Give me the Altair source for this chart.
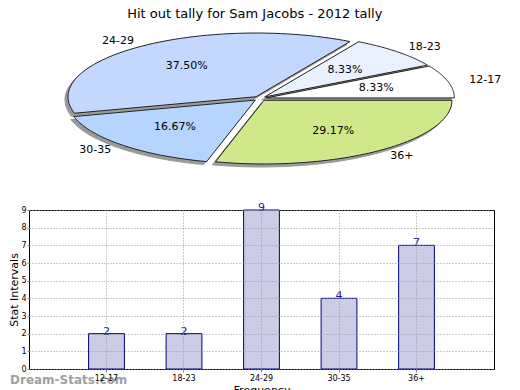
import altair as alt
import pandas as pd

title_text = "Hit out tally for Sam Jacobs - 2012 tally"
categories = ["12-17", "18-23", "24-29", "30-35", "36+"]
counts = [2, 2, 9, 4, 7]
slice_colors = ["#ffffff", "#e9f1ff", "#c4d8ff", "#b5d5ff", "#cfe98a"]
y_ticks = list(range(0, 10))
watermark = "Dream-Stats.com"

df = pd.DataFrame({"cat": categories, "count": counts})

N = 60
E = 0.035
FONT = "DejaVu Sans"

xs = alt.Scale(domain=[-1.2287, 1.2447], nice=False, zero=False)
ys = alt.Scale(domain=[-1.1852, 1.1852], nice=False, zero=False)

pie_base = (
    alt.Chart(df)
    .transform_joinaggregate(total="sum(count)")
    .transform_window(cum="sum(count)", sort=[alt.SortField("cat")], frame=[None, 0])
    .transform_calculate(a0="2*PI*(datum.cum - datum.count)/datum.total")
    .transform_calculate(a1="2*PI*datum.cum/datum.total")
    .transform_calculate(mid="(datum.a0+datum.a1)/2")
)


def polygons(dx, dy):
    return (
        pie_base.transform_calculate(pts=f"sequence(0, {N + 3})")
        .transform_flatten(["pts"])
        .transform_calculate(t=f"clamp(datum.pts-1, 0, {N})/{N}")
        .transform_calculate(rr=f"(datum.pts==0 || datum.pts=={N + 2}) ? 0 : 1")
        .transform_calculate(ang="datum.a0 + (datum.a1-datum.a0)*datum.t")
        .transform_calculate(px=f"datum.rr*cos(datum.ang) + {E}*cos(datum.mid) + ({dx})")
        .transform_calculate(py=f"datum.rr*sin(datum.ang) + {E}*sin(datum.mid) + ({dy})")
    )


shadow = polygons(-0.016, -0.047).mark_line(fill="#9a9a9a", stroke="#9a9a9a", strokeWidth=1).encode(
    x=alt.X("px:Q", scale=xs, axis=None),
    y=alt.Y("py:Q", scale=ys, axis=None),
    order="pts:Q",
    detail="cat:N",
)

slices = polygons(0, 0).mark_line(stroke="#222222", strokeWidth=1).encode(
    x=alt.X("px:Q", scale=xs, axis=None),
    y=alt.Y("py:Q", scale=ys, axis=None),
    order="pts:Q",
    detail="cat:N",
    fill=alt.Fill("cat:N", scale=alt.Scale(domain=categories, range=slice_colors), legend=None),
)

cat_labels = (
    pie_base.transform_calculate(lx="1.24*cos(datum.mid)", ly="1.14*sin(datum.mid)")
    .mark_text(fontSize=11, font=FONT, color="#000000")
    .encode(
        x=alt.X("lx:Q", scale=xs, axis=None),
        y=alt.Y("ly:Q", scale=ys, axis=None),
        text="cat:N",
    )
)

pct_labels = (
    pie_base.transform_calculate(
        lx="0.64*cos(datum.mid)",
        ly="0.64*sin(datum.mid)",
        pct="format(datum.count/datum.total, '.2%')",
    )
    .mark_text(fontSize=11, font=FONT, color="#000000")
    .encode(
        x=alt.X("lx:Q", scale=xs, axis=None),
        y=alt.Y("ly:Q", scale=ys, axis=None),
        text="pct:N",
    )
)

pie = alt.layer(shadow, slices, cat_labels, pct_labels).properties(
    width=465, height=151, view=alt.ViewBackground(stroke=None)
)

xband = alt.Scale(domain=categories, paddingInner=0.5385, paddingOuter=0.769)
yscale = alt.Scale(domain=[0, 9], nice=False)

x_axis = alt.Axis(
    title="Frequency", labelAngle=0, grid=True, bandPosition=0.5,
    gridDash=[1, 2], gridColor="#999999", labelFontSize=8, titleFontSize=11,
    titleFontWeight="normal", tickSize=3, domain=False, labelPadding=2,
    titlePadding=2, zindex=1, labelColor="#000000", titleColor="#000000",
)
y_axis = alt.Axis(
    title="Stat Intervals", values=y_ticks, grid=True, gridDash=[1, 2],
    gridColor="#999999", labelFontSize=8, titleFontSize=11, titleFontWeight="normal",
    tickSize=2, domain=False, labelPadding=1, titlePadding=1, zindex=1,
    labelColor="#000000", titleColor="#000000",
)

bars = alt.Chart(df).mark_bar(fill="#ccccE6", stroke="#000080", strokeWidth=1).encode(
    x=alt.X("cat:N", sort=categories, scale=xband, axis=x_axis),
    y=alt.Y("count:Q", scale=yscale, axis=y_axis),
)

vals = alt.Chart(df).mark_text(fontSize=11, font=FONT, color="#1a1a8c", baseline="alphabetic", dy=1).encode(
    x=alt.X("cat:N", sort=categories, scale=xband, axis=x_axis),
    y=alt.Y("count:Q", scale=yscale, axis=y_axis),
    text="count:Q",
)

wm = alt.Chart(pd.DataFrame({"t": [watermark]})).mark_text(
    align="left", baseline="middle", fontWeight="bold", fontSize=12, font=FONT, color="#a0a0a0"
).encode(x=alt.value(-19), y=alt.value(170), text="t:N")

bar = alt.layer(bars, vals, wm).properties(
    width=465, height=159, view=alt.ViewBackground(stroke="#000000", strokeWidth=1)
)

chart = (
    alt.vconcat(pie, bar, spacing=27)
    .properties(
        title=alt.TitleParams(title_text, fontSize=13, fontWeight="normal", font=FONT, anchor="middle", offset=2),
        padding={"left": 0, "top": 0, "right": 0, "bottom": 0},
    )
    .configure(font=FONT)
)

chart.save("out.html", embed_options={"renderer": "svg", "actions": False})
